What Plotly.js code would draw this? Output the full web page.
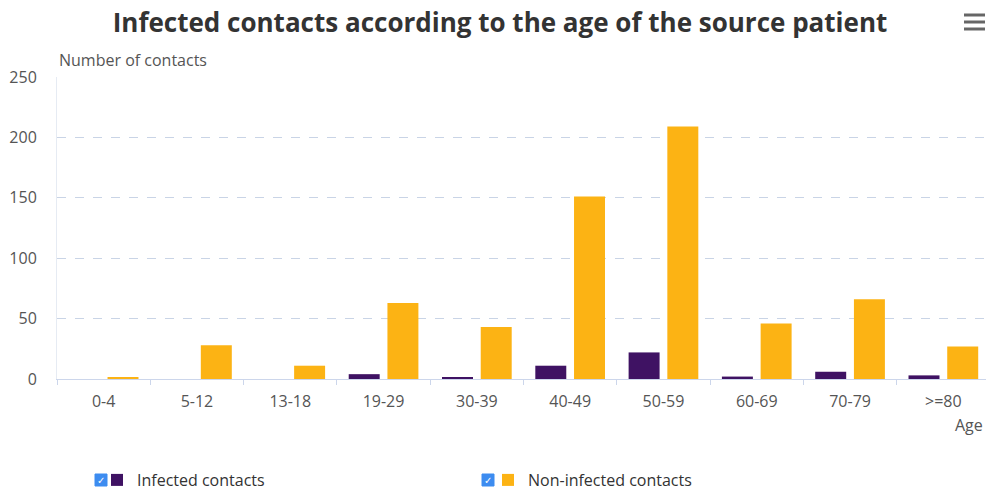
<!DOCTYPE html>
<html>
<head>
<meta charset="utf-8">
<script src="https://cdn.plot.ly/plotly-3.0.1.min.js"></script>
<style>
html,body{margin:0;padding:0;background:#fff;}
#chart{width:986px;height:491px;}
</style>
</head>
<body>
<div id="chart"></div>
<script>
var categories = ['0-4','5-12','13-18','19-29','30-39','40-49','50-59','60-69','70-79','>=80'];
var infected = [0, 0, 0, 4, 1, 11, 22, 2, 6, 3];
var nonInfected = [1, 28, 11, 63, 43, 151, 209, 46, 66, 27];
var seriesNames = ['Infected contacts', 'Non-infected contacts'];
var yTicks = [0, 50, 100, 150, 200, 250];

var font = '"Open Sans", "DejaVu Sans", sans-serif';
var PW = 929, PH = 302, PL = 57, PB = 379;
function px(x){ return (x - PL) / PW; }
function py(y){ return (PB - y) / PH; }

var traces = [
  {type:'bar', name:seriesNames[0], x:categories, y:infected,
   marker:{color:'#3f1263'}, hoverinfo:'x+y+name'},
  {type:'bar', name:seriesNames[1], x:categories, y:nonInfected,
   marker:{color:'#fcb314'}, hoverinfo:'x+y+name'}
];

function checkbox(xl, cy){
  return {type:'rect', xref:'paper', yref:'paper',
    x0:px(xl), x1:px(xl+12), y0:py(cy+6), y1:py(cy-6),
    fillcolor:'#3d8cf0', line:{color:'#3d8cf0', width:1}};
}
function menuLine(y){
  return {type:'line', xref:'paper', yref:'paper', x0:px(964), x1:px(985), y0:py(y), y1:py(y),
    line:{color:'#666', width:3}};
}
var legCY = 480;
var shapes = [
  checkbox(95, legCY), checkbox(482, legCY),
  menuLine(15), menuLine(22), menuLine(29)
];
var annotations = [
  {xref:'paper', yref:'paper', x:px(101), y:py(legCY), text:'✓', showarrow:false,
   font:{family:'DejaVu Sans', size:10, color:'#fff'}, xanchor:'center', yanchor:'middle'},
  {xref:'paper', yref:'paper', x:px(488), y:py(legCY), text:'✓', showarrow:false,
   font:{family:'DejaVu Sans', size:10, color:'#fff'}, xanchor:'center', yanchor:'middle'},
  {xref:'paper', yref:'paper', x:0, y:py(60), xanchor:'left', yanchor:'middle',
   text:'Number of contacts', showarrow:false,
   font:{family:font, size:16, color:'#555'}},
  {xref:'paper', yref:'paper', x:px(985), y:py(425), xanchor:'right', yanchor:'middle',
   text:'Age', showarrow:false, font:{family:font, size:16, color:'#555'}}
];

var layout = {
  width:986, height:491,
  margin:{l:PL, r:0, t:77, b:112, pad:0, autoexpand:false},
  paper_bgcolor:'#fff', plot_bgcolor:'#fff',
  title:{text:'<b>Infected contacts according to the age of the source patient</b>',
    x:px(500), xref:'paper', xanchor:'center', y:1-23/491, yref:'container', yanchor:'middle',
    font:{family:font, size:26, color:'#333'}},
  barmode:'group', bargap:0.17, bargroupgap:0.2,
  showlegend:true,
  legend:{orientation:'h', x:px(97), xanchor:'left', y:py(legCY), yanchor:'middle',
    entrywidth:346, entrywidthmode:'pixels', traceorder:'normal', bgcolor:'rgba(0,0,0,0)',
    font:{family:font, size:16, color:'#333'}, itemclick:false, itemdoubleclick:false},
  xaxis:{type:'category', range:[-0.5, 9.457], showgrid:false,
    showline:true, linecolor:'#ccd6eb', linewidth:1,
    ticks:'outside', ticklen:5, tickcolor:'#ccd6eb', tickson:'boundaries',
    ticklabelstandoff:8,
    tickfont:{family:font, size:16, color:'#555'}, fixedrange:true},
  yaxis:{range:[0,250], tickvals:yTicks, showgrid:true, gridcolor:'#c9d4e6', griddash:'dash',
    gridwidth:1, zeroline:false, showline:true, linecolor:'#e6ebf3', ticks:'',
    ticklabelstandoff:16,
    tickfont:{family:font, size:16, color:'#555'}, fixedrange:true},
  shapes:shapes, annotations:annotations
};

Plotly.newPlot('chart', traces, layout, {displayModeBar:false, responsive:false});
</script>
</body>
</html>
